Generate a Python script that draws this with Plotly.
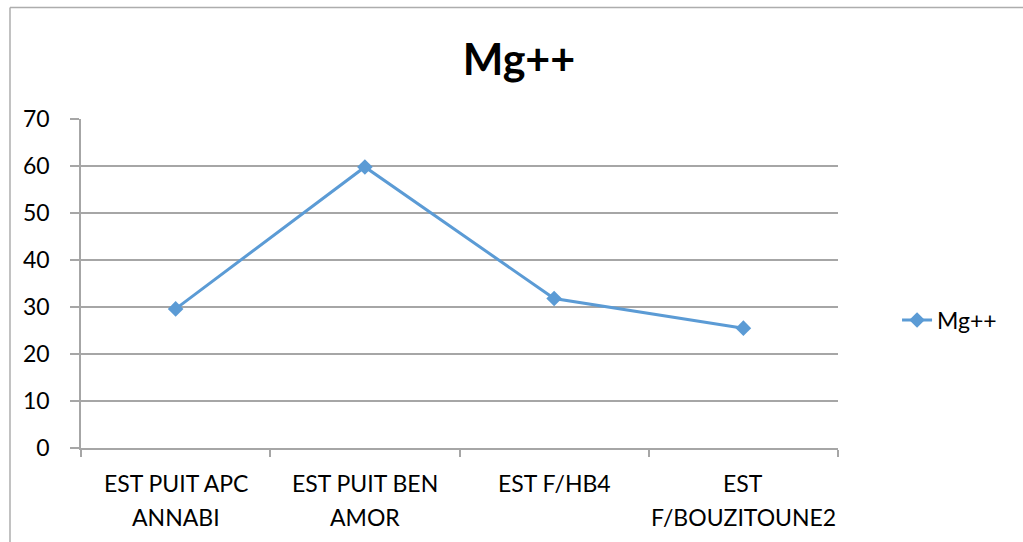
import plotly.graph_objects as go

# Mg++ concentration per station
categories = ["EST PUIT APC\nANNABI", "EST PUIT BEN\nAMOR", "EST F/HB4", "EST\nF/BOUZITOUNE2"]
mg_values = [29.6, 59.8, 31.8, 25.5]
y_ticks = [0, 10, 20, 30, 40, 50, 60, 70]

FONT = "Lato"
BLUE = "#5B9BD5"
GREY = "#A6A6A6"

fig = go.Figure()
fig.add_trace(go.Scatter(
    x=categories,
    y=mg_values,
    mode="lines+markers",
    name="Mg++",
    line=dict(color=BLUE, width=3),
    marker=dict(symbol="diamond", size=12, color=BLUE),
))

# Category labels, one line each, below the x axis
for cat in categories:
    for j, line in enumerate(cat.split("\n")):
        fig.add_annotation(
            x=cat, y=0, xref="x", yref="paper",
            text=line, showarrow=False,
            yanchor="middle", yshift=-35 - 34 * j,
            font=dict(family=FONT, size=23, color="#000000"),
        )

# Chart frame
fig.add_shape(type="line", xref="paper", yref="paper",
              x0=-0.0938, x1=1.3, y0=1.3389, y1=1.3389,
              line=dict(color="#ADADAD", width=1.5))
fig.add_shape(type="line", xref="paper", yref="paper",
              x0=-0.0938, x1=-0.0938, y0=1.3389, y1=-0.3,
              line=dict(color="#ADADAD", width=1.5))

fig.update_layout(
    width=1023, height=542,
    margin=dict(l=81, r=185, t=119, b=94),
    paper_bgcolor="white", plot_bgcolor="white",
    title=dict(text="<b>Mg++</b>", x=(519 - 81) / 757, xref="paper", xanchor="center",
               y=1 - 60 / 542, yref="container", yanchor="middle",
               font=dict(family=FONT, size=43, color="#000000")),
    font=dict(family=FONT, size=23, color="#000000"),
    showlegend=True,
    legend=dict(x=1.078, y=0.389, xanchor="left", yanchor="middle",
                font=dict(family=FONT, size=23, color="#000000"),
                bgcolor="rgba(0,0,0,0)"),
)

fig.update_xaxes(
    type="category",
    range=[-0.5, 3.5],
    showgrid=False,
    showline=True, linecolor=GREY, linewidth=1.5,
    ticks="outside", tickson="boundaries", ticklen=7, tickcolor=GREY, tickwidth=1.5,
    showticklabels=False,
    zeroline=False,
)
fig.update_yaxes(
    range=[0, 70],
    tickvals=y_ticks,
    showgrid=True, gridcolor=GREY, gridwidth=1.5,
    showline=True, linecolor=GREY, linewidth=1.5,
    ticks="outside", ticklen=9, tickcolor=GREY, tickwidth=1.5,
    ticklabelstandoff=16,
    zeroline=False,
    tickfont=dict(family=FONT, size=23, color="#000000"),
)

fig.write_html("out.html")
